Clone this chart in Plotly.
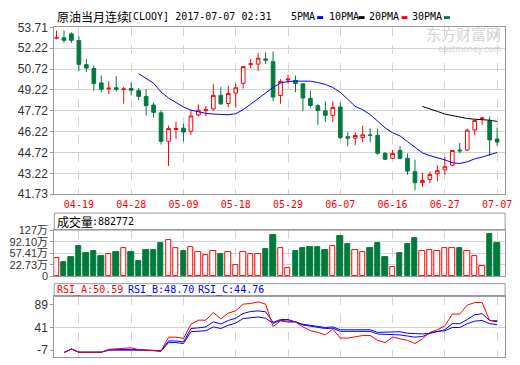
import plotly.graph_objects as go

# ---------------- data ----------------
dates = ['04-13', '04-17', '04-18', '04-19', '04-20', '04-21', '04-24', '04-25', '04-26', '04-27',
         '04-28', '05-01', '05-02', '05-03', '05-04', '05-05', '05-08', '05-09', '05-10', '05-11',
         '05-12', '05-15', '05-16', '05-17', '05-18', '05-19', '05-22', '05-23', '05-24', '05-25',
         '05-26', '05-29', '05-30', '05-31', '06-01', '06-02', '06-05', '06-06', '06-07', '06-08',
         '06-09', '06-12', '06-13', '06-14', '06-15', '06-16', '06-19', '06-20', '06-21', '06-22',
         '06-23', '06-26', '06-27', '06-28', '06-29', '06-30', '07-03', '07-05', '07-06', '07-07']

open_ = [52.95, 52.97, 53.25, 52.77, 51.04, 50.76, 49.73, 49.30, 49.38, 49.25,
         49.33, 49.17, 48.76, 48.14, 47.58, 45.53, 46.38, 46.48, 46.25, 47.42,
         47.74, 47.86, 48.83, 48.25, 48.99, 49.70, 51.06, 51.08, 51.45, 51.25,
         48.83, 49.94, 49.91, 49.66, 48.62, 48.09, 47.72, 47.40, 47.99, 45.86,
         45.76, 45.81, 45.99, 45.95, 44.66, 44.31, 44.87, 44.31, 43.35, 42.56,
         42.79, 43.21, 43.48, 43.81, 44.90, 44.91, 46.34, 47.17, 47.01, 45.70]
high = [53.48, 53.48, 53.36, 53.09, 51.45, 50.97, 50.26, 49.84, 50.21, 49.45,
        49.75, 49.38, 49.29, 48.30, 47.77, 46.66, 46.94, 46.80, 47.77, 48.18,
        48.07, 49.66, 49.43, 49.52, 49.66, 50.95, 51.45, 51.87, 51.91, 51.98,
        50.00, 50.32, 50.26, 49.68, 49.17, 48.20, 48.41, 48.41, 48.32, 46.18,
        46.18, 46.66, 46.46, 46.46, 44.77, 44.91, 45.19, 44.66, 44.20, 43.28,
        43.35, 43.81, 44.41, 44.87, 45.42, 46.39, 47.08, 47.31, 47.31, 46.52]
low = [52.86, 52.60, 52.60, 50.58, 50.51, 49.17, 49.06, 48.92, 49.10, 48.23,
       48.83, 48.50, 47.40, 47.24, 45.30, 43.76, 45.72, 45.51, 45.99, 47.33,
       47.33, 47.72, 48.14, 47.98, 47.98, 49.33, 50.79, 50.58, 51.08, 48.41,
       48.23, 49.68, 49.06, 47.72, 47.95, 46.71, 46.92, 46.92, 45.70, 45.19,
       45.26, 45.47, 45.47, 44.57, 44.20, 44.27, 44.22, 43.12, 42.01, 42.24,
       42.52, 42.66, 43.12, 43.74, 44.66, 44.84, 45.97, 46.71, 44.50, 45.19]
close = [52.98, 52.79, 52.79, 51.06, 50.79, 49.68, 49.27, 49.35, 49.27, 49.29,
         49.20, 48.76, 48.09, 47.61, 45.53, 46.46, 46.45, 46.20, 47.35, 47.77,
         47.80, 48.83, 48.23, 48.97, 49.38, 50.90, 51.10, 51.50, 51.36, 48.71,
         49.84, 50.00, 49.68, 48.64, 48.11, 47.75, 47.40, 47.97, 45.81, 45.76,
         45.95, 46.00, 45.96, 44.68, 44.24, 44.66, 44.31, 43.39, 42.56, 42.72,
         43.14, 43.42, 43.71, 44.87, 44.85, 46.34, 47.03, 47.20, 45.63, 45.49]

# volume in 万 (10k)
volume = [41.8, 32.0, 46.7, 79.0, 58.5, 64.3, 49.7, 54.6, 61.4, 72.2,
          61.4, 35.0, 67.3, 67.3, 87.8, 95.7, 72.2, 64.3, 75.1, 60.4,
          52.6, 63.4, 55.5, 60.4, 22.2, 60.4, 55.5, 55.5, 70.2, 111.3,
          72.2, 13.4, 64.3, 73.2, 76.1, 76.1, 67.3, 79.0, 109.4, 84.9,
          66.3, 60.4, 73.2, 87.8, 46.7, 16.4, 58.5, 84.9, 102.5, 63.4,
          66.3, 63.4, 72.2, 72.2, 73.2, 64.3, 49.7, 19.3, 114.3, 88.27]

ma5 = [None] * 11 + [50.39, 50.07, 49.70, 49.08, 48.64, 48.32, 48.00, 47.77, 47.63,
                     47.54, 47.49, 47.44, 47.44, 47.51, 47.81, 48.20, 48.62, 49.01, 49.40,
                     49.72, 49.83, 49.86, 49.86, 49.85, 49.76, 49.62, 49.40, 49.05, 48.55,
                     48.04, 47.80, 47.45, 46.98, 46.50, 46.15, 45.92, 45.51, 45.12, 44.70,
                     44.50, 44.36, 44.20, 43.99, 43.94, 44.06, 44.27, 44.40, 44.57, 44.73]
ma10 = [None] * 49 + [48.04, 47.88, 47.68, 47.49, 47.38, 47.26, 47.17, 47.12, 47.10, 47.05, 46.96]

rsi_a = [None, -12.3, -4.8, -11.6, -11.6, -11.6, -11.6, -5.5, -4.1, -2.1,
         -2.1, -6.2, -6.9, -7.5, -9.6, 20.5, 20.5, 17.7, 47.8, 56.7,
         56.7, 73.1, 59.4, 71.7, 76.5, 90.8, 92.2, 95.6, 90.8, 43.0,
         55.0, 52.6, 52.6, 42.3, 34.1, 30.7, 25.2, 37.5, 18.4, 18.4,
         21.8, 23.9, 23.9, 13.6, 8.9, 20.5, 17.1, 13.6, 6.8, 17.1,
         30.7, 36.2, 44.4, 69.6, 69.6, 88.8, 94.2, 94.2, 56.0, 56.0]
rsi_b = [None, -12.3, -4.8, -11.6, -11.6, -11.6, -11.6, -6.9, -6.2, -5.5,
         -5.5, -6.2, -6.9, -7.5, -8.9, 12.3, 12.3, 10.2, 38.9, 40.3,
         42.3, 53.3, 48.5, 56.0, 60.8, 71.0, 75.1, 76.5, 74.4, 52.0,
         58.0, 58.0, 53.3, 47.8, 45.7, 43.0, 41.0, 42.3, 36.2, 36.2,
         36.2, 36.2, 36.2, 30.7, 30.7, 32.1, 32.1, 28.7, 27.3, 27.3,
         28.7, 32.1, 36.2, 49.2, 49.2, 58.0, 68.3, 70.3, 56.0, 53.3]
rsi_c = [None, -12.3, -4.8, -11.6, -11.6, -11.6, -11.6, -6.9, -6.9, -6.9,
         -6.9, -6.9, -7.5, -7.5, -9.6, 8.9, 8.9, 6.8, 32.1, 33.4,
         34.1, 42.3, 38.9, 45.7, 50.5, 60.1, 62.1, 63.5, 60.8, 50.0,
         56.0, 54.6, 53.3, 46.4, 44.4, 41.0, 38.9, 39.6, 32.8, 32.8,
         32.8, 32.8, 32.8, 27.3, 25.9, 25.9, 25.2, 22.5, 20.5, 21.8,
         28.7, 32.8, 34.1, 41.0, 41.0, 49.2, 54.6, 56.0, 49.2, 47.1]

price_ticks = [53.71, 52.22, 50.72, 49.22, 47.72, 46.22, 44.72, 43.22, 41.73]
vol_ticks = [22.73, 57.41, 92.10, 127.0]
vol_floor = -11.96
rsi_ticks = [89, 41, -7]
xtick_idx = list(range(3, 60, 7))

# ---------------- styling helpers ----------------
W, H = 520, 365
def fx(px):
    return px / W
def fy(px):
    return 1 - px / H

RED = '#FF0000'
GREEN = '#007A3D'
BLUE = '#0000FF'
GRID = '#D3D3D3'
FRAME = '#9A9A9A'
LBL = '#333333'
X0, X1 = 55, 512
MONO = 'DejaVu Sans Mono'
CJK = 'Noto Sans CJK SC'
SANS = 'Liberation Sans, Noto Sans CJK SC'

up = [c >= o for o, c in zip(open_, close)]

fig = go.Figure()

fig.add_trace(go.Candlestick(
    x=dates, open=open_, high=high, low=low, close=close,
    increasing=dict(line=dict(color=RED, width=1), fillcolor='white'),
    decreasing=dict(line=dict(color=GREEN, width=1), fillcolor=GREEN),
    whiskerwidth=0, hoverinfo='skip', showlegend=False, xaxis='x', yaxis='y'))
fig.add_trace(go.Scatter(x=dates, y=ma5, mode='lines', name='5PMA',
                         line=dict(color=BLUE, width=1), xaxis='x', yaxis='y'))
fig.add_trace(go.Scatter(x=dates, y=ma10, mode='lines', name='10PMA',
                         line=dict(color='#000000', width=1), xaxis='x', yaxis='y'))

fig.add_trace(go.Bar(
    x=dates, y=[v - vol_floor for v in volume], base=vol_floor, width=0.72,
    marker=dict(color=['white' if u else GREEN for u in up],
                line=dict(color=[RED if u else GREEN for u in up], width=1)),
    xaxis='x2', yaxis='y2', showlegend=False))

fig.add_trace(go.Scatter(x=dates, y=rsi_c, mode='lines', line=dict(color=BLUE, width=1),
                         xaxis='x3', yaxis='y3'))
fig.add_trace(go.Scatter(x=dates, y=rsi_b, mode='lines', line=dict(color=BLUE, width=1),
                         xaxis='x3', yaxis='y3'))
fig.add_trace(go.Scatter(x=dates, y=rsi_a, mode='lines', line=dict(color=RED, width=1),
                         xaxis='x3', yaxis='y3'))

xcommon = dict(type='category', range=[-0.3, 60.07], domain=[fx(X0), fx(X1)],
               tickvals=[dates[i] for i in xtick_idx], ticktext=[dates[i] for i in xtick_idx],
               showgrid=True, gridcolor=GRID, griddash='dash', gridwidth=1,
               showline=True, mirror=True, linecolor=FRAME, linewidth=1, ticks='',
               zeroline=False, fixedrange=True)

ycommon = dict(showline=True, mirror=True, linecolor=FRAME, linewidth=1,
               ticks='outside', ticklen=3, tickcolor=FRAME,
               zeroline=False, fixedrange=True)

fig.update_layout(
    width=W, height=H, autosize=False,
    margin=dict(l=0, r=0, t=0, b=0),
    paper_bgcolor='white', plot_bgcolor='white',
    showlegend=False, bargap=0,
    xaxis=dict(**xcommon, anchor='y', rangeslider=dict(visible=False),
               tickfont=dict(family=MONO, size=10, color=RED), ticklabelstandoff=1),
    yaxis=dict(**ycommon, domain=[fy(194.7), fy(21.3)], range=[41.73, 53.71],
               tickvals=price_ticks, ticktext=['%.2f' % t for t in price_ticks],
               tickfont=dict(family=SANS, size=12, color=LBL),
               showgrid=True, gridcolor=GRID),
    xaxis2=dict(**xcommon, anchor='y2', showticklabels=False),
    yaxis2=dict(**ycommon, domain=[fy(280), fy(232)], range=[vol_floor, 127],
                tickvals=[vol_floor] + vol_ticks,
                ticktext=['0'] + ['%g万' % t if t == 127 else '%.2f万' % t for t in vol_ticks],
                tickfont=dict(family=SANS, size=11, color=LBL),
                showgrid=True, gridcolor=GRID),
    xaxis3=dict(**xcommon, anchor='y3', showticklabels=False),
    yaxis3=dict(**ycommon, domain=[fy(364), fy(301)], range=[-21.9, 107.2],
                tickvals=rsi_ticks, ticktext=[str(t) for t in rsi_ticks],
                tickfont=dict(family=SANS, size=12, color=LBL), showgrid=False),
)

shapes = [
    dict(type='rect', xref='paper', yref='paper', x0=fx(X0), x1=fx(X1), y0=fy(232), y1=fy(214.3),
         line=dict(color=FRAME, width=1)),
    dict(type='rect', xref='paper', yref='paper', x0=fx(X0), x1=fx(X1), y0=fy(301), y1=fy(287.7),
         line=dict(color=FRAME, width=1)),
    dict(type='line', xref='x3 domain', yref='y3', x0=0, x1=1, y0=41, y1=41,
         line=dict(color=GRID, width=1), layer='below'),
]
for (x0, x1), col in zip([(321.5, 327.5), (363.5, 369.5), (407, 413), (450, 456)],
                         [BLUE, '#000000', RED, GREEN]):
    shapes.append(dict(type='rect', xref='paper', yref='paper', x0=fx(x0), x1=fx(x1),
                       y0=fy(12.5), y1=fy(9.5), fillcolor=col, line=dict(width=0)))
fig.update_layout(shapes=shapes)

def ann(text, x, y, fam, size, color, anchor='left'):
    return dict(text=text, x=fx(x), y=fy(y), xref='paper', yref='paper', xanchor=anchor,
                yanchor='middle', showarrow=False, font=dict(family=fam, size=size, color=color))

annotations = [
    ann('原油当月连续', 55.5, 10, CJK, 12, '#000000'),
    ann('[CLOOY] 2017-07-07 02:31', 127, 10, MONO, 10, '#000000'),
    ann('5PMA', 293, 10, MONO, 10, '#000000'),
    ann('10PMA', 331, 10, MONO, 10, '#000000'),
    ann('20PMA', 372, 10, MONO, 10, '#000000'),
    ann('30PMA', 416, 10, MONO, 10, '#000000'),
    ann('成交量', 55.5, 223, CJK, 12, '#000000'),
    ann(':882772', 91.5, 223, MONO, 10, '#000000'),
    ann('RSI_A:50.59', 55.5, 294.3, MONO, 10, RED),
    ann('RSI_B:48.70', 127.5, 294.3, MONO, 10, BLUE),
    ann('RSI_C:44.76', 199, 294.3, MONO, 10, BLUE),
    ann('东方财富网', 510, 28, CJK, 15, '#D2D2D2', anchor='right'),
    ann('eastmoney.com', 510, 44, 'DejaVu Sans', 8, '#D2D2D2', anchor='right'),
]
fig.update_layout(annotations=annotations)

fig.write_html('out.html', config={'displayModeBar': False},
               post_script="document.body.style.margin='0';document.body.style.overflow='hidden';")
